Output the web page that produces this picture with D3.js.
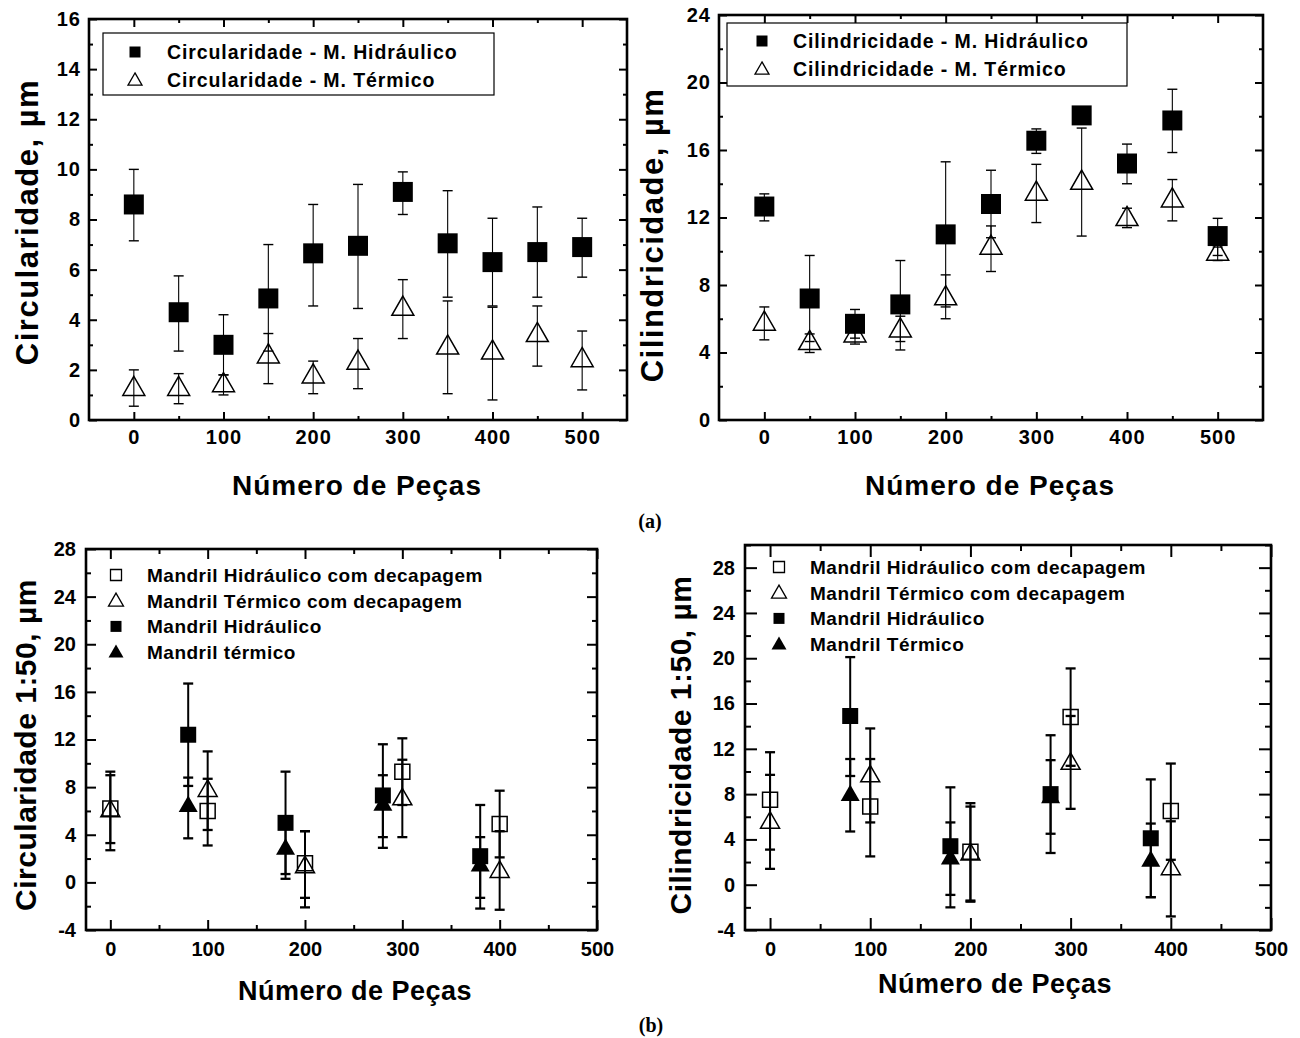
<!DOCTYPE html>
<html><head><meta charset="utf-8">
<script src="https://cdn.jsdelivr.net/npm/d3@7/dist/d3.min.js"></script>
<style>
html,body{margin:0;padding:0;background:#fff;}
svg{display:block;}
</style></head>
<body>
<svg id="fig" width="1300" height="1038"></svg>
<script>
// ---------------- DATA ----------------
// Panel (a) left: Circularidade
const xTop = [0, 50, 100, 150, 200, 250, 300, 350, 400, 450, 500];
const circHidr     = [8.6, 4.3, 3.0, 4.85, 6.65, 6.95, 9.1, 7.05, 6.3, 6.7, 6.9];
const circHidrLo   = [7.15, 2.75, 1.8, 2.75, 4.55, 4.45, 8.2, 4.9, 4.55, 4.9, 5.7];
const circHidrHi   = [10.0, 5.75, 4.2, 7.0, 8.6, 9.4, 9.9, 9.15, 8.05, 8.5, 8.05];
const circTerm     = [1.3, 1.3, 1.45, 2.6, 1.8, 2.35, 4.5, 2.95, 2.75, 3.45, 2.45];
const circTermLo   = [0.55, 0.65, 1.0, 1.45, 1.05, 1.25, 3.25, 1.05, 0.8, 2.15, 1.2];
const circTermHi   = [2.0, 1.85, 1.8, 3.45, 2.35, 3.25, 5.6, 4.75, 4.5, 4.55, 3.55];
// Panel (a) right: Cilindricidade
const cilHidr      = [12.65, 7.2, 5.7, 6.85, 11.0, 12.8, 16.55, 18.05, 15.2, 17.75, 10.9];
const cilHidrLo    = [11.8, 4.65, 4.85, 4.15, 6.7, 10.8, 15.8, 17.7, 14.0, 15.85, 9.75];
const cilHidrHi    = [13.4, 9.75, 6.55, 9.45, 15.3, 14.8, 17.25, 18.4, 16.35, 19.6, 11.95];
const cilTerm      = [5.8, 4.65, 5.1, 5.4, 7.3, 10.3, 13.5, 14.15, 12.0, 13.1, 9.95];
const cilTermLo    = [4.75, 4.0, 4.5, 4.65, 6.0, 8.8, 11.7, 10.9, 11.4, 11.8, 9.45];
const cilTermHi    = [6.7, 5.1, 5.5, 6.15, 8.6, 11.5, 15.15, 17.3, 12.55, 14.25, 10.25];

// Panel (b): x positions
const xDecap = [0, 100, 200, 300, 400];
const xPlain = [80, 180, 280, 380];
// Panel (b) left: Circularidade 1:50
const c50HidrDec   = [6.2, 6.0, 1.6, 9.3, 4.9];
const c50HidrDecLo = [3.3, 3.1, -1.3, 6.5, 2.1];
const c50HidrDecHi = [9.0, 8.7, 4.3, 12.1, 7.7];
const c50TermDec   = [6.1, 7.8, 1.4, 7.1, 1.0];
const c50TermDecLo = [2.7, 4.4, -2.1, 3.8, -2.3];
const c50TermDecHi = [9.3, 11.0, 4.3, 10.3, 4.3];
const c50Hidr      = [12.4, 5.0, 7.3, 2.2];
const c50HidrLo    = [8.1, 0.7, 2.9, -2.2];
const c50HidrHi    = [16.7, 9.3, 11.6, 6.5];
const c50Term      = [6.5, 2.9, 6.6, 1.5];
const c50TermLo    = [3.7, 0.3, 3.8, -1.3];
const c50TermHi    = [8.8, 5.5, 9.0, 3.8];
// Panel (b) right: Cilindricidade 1:50
const y50HidrDec   = [7.5, 6.9, 2.9, 14.8, 6.5];
const y50HidrDecLo = [3.1, 2.5, -1.4, 10.5, 2.2];
const y50HidrDecHi = [11.7, 11.1, 7.2, 19.1, 10.7];
const y50TermDec   = [5.6, 9.7, 2.8, 10.8, 1.5];
const y50TermDecLo = [1.4, 5.5, -1.5, 6.7, -2.8];
const y50TermDecHi = [9.7, 13.8, 6.9, 14.9, 5.6];
const y50Hidr      = [14.9, 3.4, 8.0, 4.1];
const y50HidrLo    = [9.6, -2.0, 2.8, -1.1];
const y50HidrHi    = [20.1, 8.6, 13.2, 9.3];
const y50Term      = [8.0, 2.4, 7.8, 2.2];
const y50TermLo    = [4.7, -0.9, 4.5, -1.1];
const y50TermHi    = [11.1, 5.5, 11.0, 5.4];

// Tick values / labels
const xTicksMajor = [0, 100, 200, 300, 400, 500];
const xTicksMinor = [50, 150, 250, 350, 450];
const yTicksA = [0, 2, 4, 6, 8, 10, 12, 14, 16];
const yTicksB = [0, 4, 8, 12, 16, 20, 24];
const yTicksC = [-4, 0, 4, 8, 12, 16, 20, 24, 28];
const yTicksD = [-4, 0, 4, 8, 12, 16, 20, 24, 28];

// Text
const xTitle = "Número de Peças";
const yTitleA = "Circularidade, µm";
const yTitleB = "Cilindricidade, µm";
const yTitleC = "Circularidade 1:50, µm";
const yTitleD = "Cilindricidade 1:50, µm";
const legA = ["Circularidade - M. Hidráulico", "Circularidade - M. Térmico"];
const legB = ["Cilindricidade - M. Hidráulico", "Cilindricidade - M. Térmico"];
const legC = ["Mandril Hidráulico com decapagem", "Mandril Térmico com decapagem", "Mandril Hidráulico", "Mandril térmico"];
const legD = ["Mandril Hidráulico com decapagem", "Mandril Térmico com decapagem", "Mandril Hidráulico", "Mandril Térmico"];

// ---------------- DRAWING ----------------
const SANS = "'Liberation Sans', Arial, Helvetica, sans-serif";
const svg = d3.select('#fig');
svg.append('rect').attr('width', 1300).attr('height', 1038).attr('fill', '#fff');
const fmt = d => String(d);

function markerPath(shape, s) {
  if (shape === 'square') {
    const h = s / 2;
    return `M${-h},${-h}H${h}V${h}H${-h}Z`;
  }
  const w = s / 2, hh = s * 0.87;
  return `M0,${-hh * 0.58}L${w},${hh * 0.42}L${-w},${hh * 0.42}Z`;
}

function drawPanel(cfg) {
  const x = d3.scaleLinear().domain(cfg.xDomain).range([cfg.left, cfg.right]);
  const y = d3.scaleLinear().domain(cfg.yDomain).range([cfg.bottom, cfg.top]);
  const g = svg.append('g');
  const ls = cfg.letterSpacing;

  g.append('rect').attr('x', cfg.left).attr('y', cfg.top)
    .attr('width', cfg.right - cfg.left).attr('height', cfg.bottom - cfg.top)
    .attr('fill', 'none').attr('stroke', '#000').attr('stroke-width', 2.6);

  const tickStyle = sel => {
    sel.select('.domain').remove();
    sel.selectAll('line').attr('stroke', '#000').attr('stroke-width', 2);
    sel.selectAll('text').attr('font-family', SANS).attr('font-weight', 'bold')
      .attr('font-size', cfg.tickFont).attr('fill', '#000').attr('letter-spacing', ls);
  };

  g.append('g').attr('transform', `translate(0,${cfg.bottom})`)
    .call(d3.axisBottom(x).tickValues(xTicksMajor).tickSize(-cfg.maj).tickPadding(cfg.xPad).tickFormat(fmt))
    .call(tickStyle);
  g.append('g').attr('transform', `translate(0,${cfg.bottom})`)
    .call(d3.axisBottom(x).tickValues(xTicksMinor).tickSize(-cfg.min).tickFormat(''))
    .call(tickStyle);
  g.append('g').attr('transform', `translate(0,${cfg.top})`)
    .call(d3.axisTop(x).tickValues(xTicksMajor).tickSize(-cfg.maj).tickFormat(''))
    .call(tickStyle);
  g.append('g').attr('transform', `translate(0,${cfg.top})`)
    .call(d3.axisTop(x).tickValues(xTicksMinor).tickSize(-cfg.min).tickFormat(''))
    .call(tickStyle);
  const yMinor = d3.range(cfg.yDomain[0], cfg.yDomain[1] + 0.001, cfg.yMinorStep)
    .filter(v => !cfg.yTicks.includes(v) && v > cfg.yDomain[0] && v < cfg.yDomain[1] + 0.001);
  g.append('g').attr('transform', `translate(${cfg.left},0)`)
    .call(d3.axisLeft(y).tickValues(cfg.yTicks).tickSize(-cfg.maj).tickPadding(cfg.yPad).tickFormat(fmt))
    .call(tickStyle);
  g.append('g').attr('transform', `translate(${cfg.left},0)`)
    .call(d3.axisLeft(y).tickValues(yMinor).tickSize(-cfg.min).tickFormat(''))
    .call(tickStyle);
  g.append('g').attr('transform', `translate(${cfg.right},0)`)
    .call(d3.axisRight(y).tickValues(cfg.yTicks).tickSize(-cfg.maj).tickFormat(''))
    .call(tickStyle);
  g.append('g').attr('transform', `translate(${cfg.right},0)`)
    .call(d3.axisRight(y).tickValues(yMinor).tickSize(-cfg.min).tickFormat(''))
    .call(tickStyle);

  const L = cfg.legend;
  if (L.box) {
    g.append('rect').attr('x', L.box[0]).attr('y', L.box[1]).attr('width', L.box[2]).attr('height', L.box[3])
      .attr('fill', '#fff').attr('stroke', '#000').attr('stroke-width', 1.2);
  }
  cfg.series.forEach((s, i) => {
    const ry = L.y0 + i * L.dy;
    g.append('path').attr('d', markerPath(s.shape, s.shape === 'square' ? L.sq : L.tri))
      .attr('transform', `translate(${L.mx},${ry})`)
      .attr('fill', s.filled ? '#000' : 'none').attr('stroke', '#000').attr('stroke-width', s.filled ? 0 : 1.3);
    g.append('text').attr('x', L.tx).attr('y', ry).attr('dy', '0.36em')
      .attr('font-family', SANS).attr('font-weight', 'bold').attr('font-size', L.font)
      .attr('letter-spacing', L.ls).text(L.labels[i]);
  });

  cfg.series.forEach(s => {
    const eb = g.append('g');
    s.x.forEach((xv, i) => {
      const cx = x(xv);
      eb.append('line').attr('x1', cx).attr('x2', cx).attr('y1', y(s.lo[i])).attr('y2', y(s.hi[i]))
        .attr('stroke', '#000').attr('stroke-width', cfg.ebW);
      [s.lo[i], s.hi[i]].forEach(v => {
        eb.append('line').attr('x1', cx - cfg.cap / 2).attr('x2', cx + cfg.cap / 2)
          .attr('y1', y(v)).attr('y2', y(v)).attr('stroke', '#000').attr('stroke-width', cfg.ebW + 0.3);
      });
    });
  });
  cfg.series.forEach(s => {
    const size = s.shape === 'square' ? (s.filled ? cfg.sqF : cfg.sqO) : cfg.tri;
    g.append('g').selectAll('path').data(s.x.map((xv, i) => [xv, s.y[i]])).join('path')
      .attr('d', markerPath(s.shape, size))
      .attr('transform', d => `translate(${x(d[0])},${y(d[1])})`)
      .attr('fill', s.filled ? '#000' : 'none')
      .attr('stroke', '#000').attr('stroke-width', s.filled ? 0 : 1.5);
  });

  g.append('text').attr('x', cfg.xt[0]).attr('y', cfg.xt[1]).attr('text-anchor', 'middle')
    .attr('font-family', SANS).attr('font-weight', 'bold').attr('font-size', cfg.titleFont)
    .attr('letter-spacing', cfg.titleLs).text(xTitle);
  g.append('text').attr('transform', `translate(${cfg.yt[0]},${cfg.yt[1]}) rotate(-90)`)
    .attr('text-anchor', 'middle').attr('dy', '0.36em')
    .attr('font-family', SANS).attr('font-weight', 'bold').attr('font-size', cfg.yTitleFont)
    .attr('letter-spacing', cfg.yTitleLs).text(cfg.yTitle);
}

drawPanel({
  left: 89, right: 627, top: 19, bottom: 420, xDomain: [-50, 550], yDomain: [0, 16],
  yTicks: yTicksA, yMinorStep: 1, maj: 8, min: 4, xPad: 10, yPad: 8, tickFont: 20, letterSpacing: 1,
  ebW: 1.1, cap: 10, sqF: 20, sqO: 18, tri: 22,
  xt: [357, 495], titleFont: 28, titleLs: 1, yt: [27, 222], yTitle: yTitleA, yTitleFont: 31, yTitleLs: 1.5,
  series: [
    {x: xTop, y: circHidr, lo: circHidrLo, hi: circHidrHi, shape: 'square', filled: true},
    {x: xTop, y: circTerm, lo: circTermLo, hi: circTermHi, shape: 'triangle', filled: false}
  ],
  legend: {box: [103, 33, 391, 62], mx: 135, tx: 167, y0: 52, dy: 28, font: 19.5, ls: 0.9, sq: 11, tri: 14, labels: legA}
});
drawPanel({
  left: 719, right: 1263, top: 15, bottom: 420, xDomain: [-50, 550], yDomain: [0, 24],
  yTicks: yTicksB, yMinorStep: 2, maj: 8, min: 4, xPad: 10, yPad: 8, tickFont: 20, letterSpacing: 1,
  ebW: 1.1, cap: 10, sqF: 20, sqO: 18, tri: 22,
  xt: [990, 495], titleFont: 28, titleLs: 1, yt: [652, 235], yTitle: yTitleB, yTitleFont: 31, yTitleLs: 1.5,
  series: [
    {x: xTop, y: cilHidr, lo: cilHidrLo, hi: cilHidrHi, shape: 'square', filled: true},
    {x: xTop, y: cilTerm, lo: cilTermLo, hi: cilTermHi, shape: 'triangle', filled: false}
  ],
  legend: {box: [727, 23, 400, 63], mx: 762, tx: 793, y0: 41, dy: 28, font: 19.5, ls: 0.9, sq: 11, tri: 14, labels: legB}
});
drawPanel({
  left: 86, right: 597, top: 549, bottom: 930, xDomain: [-25, 500], yDomain: [-4, 28],
  yTicks: yTicksC, yMinorStep: 2, maj: 10, min: 5, xPad: 12, yPad: 10, tickFont: 20, letterSpacing: 0,
  ebW: 2, cap: 10, sqF: 16, sqO: 15, tri: 19,
  xt: [355, 1000], titleFont: 27, titleLs: 0.5, yt: [25, 745], yTitle: yTitleC, yTitleFont: 30, yTitleLs: 0.5,
  series: [
    {x: xDecap, y: c50HidrDec, lo: c50HidrDecLo, hi: c50HidrDecHi, shape: 'square', filled: false},
    {x: xDecap, y: c50TermDec, lo: c50TermDecLo, hi: c50TermDecHi, shape: 'triangle', filled: false},
    {x: xPlain, y: c50Hidr, lo: c50HidrLo, hi: c50HidrHi, shape: 'square', filled: true},
    {x: xPlain, y: c50Term, lo: c50TermLo, hi: c50TermHi, shape: 'triangle', filled: true}
  ],
  legend: {box: null, mx: 116, tx: 147, y0: 575, dy: 25.7, font: 19, ls: 0.5, sq: 11, tri: 15, labels: legC}
});
drawPanel({
  left: 745, right: 1271, top: 545, bottom: 930, xDomain: [-25, 500], yDomain: [-4, 30],
  yTicks: yTicksD, yMinorStep: 2, maj: 12, min: 6, xPad: 12, yPad: 10, tickFont: 20, letterSpacing: 0,
  ebW: 2, cap: 10, sqF: 16, sqO: 15, tri: 19,
  xt: [995, 993], titleFont: 27, titleLs: 0.5, yt: [680, 745], yTitle: yTitleD, yTitleFont: 30, yTitleLs: 0.5,
  series: [
    {x: xDecap, y: y50HidrDec, lo: y50HidrDecLo, hi: y50HidrDecHi, shape: 'square', filled: false},
    {x: xDecap, y: y50TermDec, lo: y50TermDecLo, hi: y50TermDecHi, shape: 'triangle', filled: false},
    {x: xPlain, y: y50Hidr, lo: y50HidrLo, hi: y50HidrHi, shape: 'square', filled: true},
    {x: xPlain, y: y50Term, lo: y50TermLo, hi: y50TermHi, shape: 'triangle', filled: true}
  ],
  legend: {box: null, mx: 779, tx: 810, y0: 567, dy: 25.7, font: 19, ls: 0.5, sq: 11, tri: 15, labels: legD}
});

svg.append('text').attr('x', 650).attr('y', 528).attr('text-anchor', 'middle')
  .attr('font-family', "'Liberation Serif', 'Times New Roman', serif").attr('font-weight', 'bold')
  .attr('font-size', 20).text('(a)');
svg.append('text').attr('x', 651).attr('y', 1032).attr('text-anchor', 'middle')
  .attr('font-family', "'Liberation Serif', 'Times New Roman', serif").attr('font-weight', 'bold')
  .attr('font-size', 20).text('(b)');
</script>
</body></html>
